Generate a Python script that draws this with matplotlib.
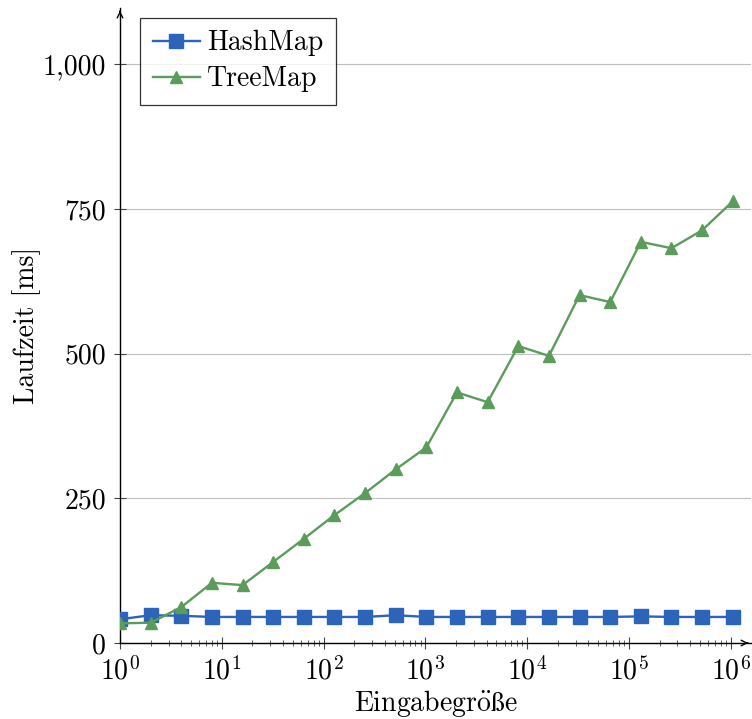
import math
import matplotlib
matplotlib.use("Agg")
import matplotlib.pyplot as plt
from matplotlib.ticker import FuncFormatter, LogLocator, FixedLocator

sizes = [2**i for i in range(21)]
hashmap = [41, 48, 47, 45, 45, 45, 45, 45, 45, 48, 45, 45, 45, 45, 45, 45, 45, 46, 45, 45, 45]
treemap = [34, 35, 62, 104, 100, 140, 180, 221, 259, 300, 338, 433, 416, 513, 496, 601, 589, 693, 682, 713, 763]
yticks = [0, 250, 500, 750, 1000]

plt.rcParams['font.family'] = ['cmr10', 'DejaVu Serif']
plt.rcParams['mathtext.fontset'] = 'cm'
plt.rcParams['axes.unicode_minus'] = False

FS = 20

fig = plt.figure(figsize=(7.52, 7.19), dpi=100)
ax = fig.add_axes([120/752, 76/719, 631/752, 635/719])

blue = '#2B64B8'
green = '#5B9C5B'
ax.plot(sizes, hashmap, color=blue, marker='s', markersize=10, linewidth=1.7, label='HashMap', zorder=3)
ax.plot(sizes, treemap, color=green, marker='^', markersize=9, linewidth=1.7, label='TreeMap', zorder=3)

ax.set_xscale('log')
ax.set_xlim(1, 10**6.2)
ax.set_ylim(0, 1097)
ax.set_yticks(yticks)
ax.yaxis.set_major_formatter(FuncFormatter(lambda v, p: f"{int(v):,}"))
ax.xaxis.set_major_locator(FixedLocator([10**k for k in range(7)]))
ax.xaxis.set_major_formatter(FuncFormatter(lambda v, p: r"$10^{%d}$" % round(math.log10(v))))
ax.xaxis.set_minor_locator(LogLocator(base=10, subs=range(2, 10), numticks=20))

ax.grid(axis='y', color='#bfbfbf', linewidth=0.8)
ax.set_axisbelow(True)
for s in ['top', 'right']:
    ax.spines[s].set_visible(False)
for s in ['left', 'bottom']:
    ax.spines[s].set_linewidth(1.0)
    ax.spines[s].set_color('black')

ax.tick_params(axis='both', which='major', direction='inout', length=8, width=0.8,
               color='#444444', labelsize=FS, pad=6)
ax.tick_params(axis='x', which='minor', direction='inout', length=5, width=0.6, color='#444444')
ax.tick_params(axis='y', which='minor', left=False)

# arrowheads
ax.annotate('', xy=(1.0, 0), xytext=(0.99, 0), xycoords='axes fraction',
            arrowprops=dict(arrowstyle='->', color='black', lw=1.0), annotation_clip=False)
ax.annotate('', xy=(0, 1.0), xytext=(0, 0.99), xycoords='axes fraction',
            arrowprops=dict(arrowstyle='->', color='black', lw=1.0), annotation_clip=False)

ax.set_xlabel(r'Eingabegr$\ddot{\mathrm{o}}\mathrm{\ss}$e', fontsize=FS, labelpad=2)
ax.set_ylabel('Laufzeit [ms]', fontsize=FS)
ax.yaxis.set_label_coords(-0.125, 0.5)

leg = ax.legend(loc='upper left', bbox_to_anchor=(0.032, 0.985), fontsize=FS, frameon=True,
                fancybox=False, edgecolor='black', handlelength=1.7, borderpad=0.45,
                labelspacing=0.35, handletextpad=0.25, borderaxespad=0.0)
leg.get_frame().set_linewidth(0.9)

fig.savefig('out.png', dpi=100)
